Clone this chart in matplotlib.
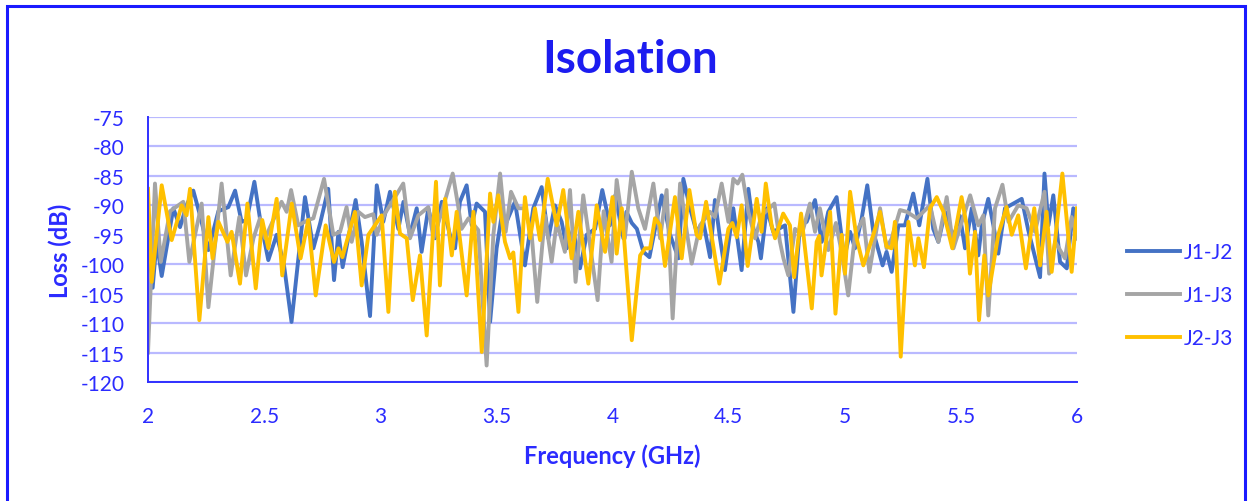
import matplotlib
matplotlib.use("Agg")
import matplotlib.pyplot as plt
from matplotlib.patches import Rectangle

plt.rcParams["font.family"] = ["Lato", "DejaVu Sans"]
plt.rcParams["axes.unicode_minus"] = False

# J1-J2 (blue)
f_j1j2 = [2.000, 2.020, 2.037, 2.059, 2.109, 2.138, 2.166, 2.195, 2.224, 2.260,
          2.303, 2.346, 2.375, 2.403, 2.425, 2.458, 2.482, 2.518, 2.554, 2.585,
          2.618, 2.676, 2.712, 2.741, 2.776, 2.801, 2.820, 2.838, 2.894, 2.920,
          2.956, 2.985, 3.013, 3.042, 3.078, 3.100, 3.128, 3.157, 3.178, 3.207,
          3.236, 3.265, 3.300, 3.322, 3.343, 3.372, 3.394, 3.415, 3.451, 3.473,
          3.501, 3.523, 3.544, 3.580, 3.623, 3.659, 3.695, 3.724, 3.752, 3.781,
          3.803, 3.831, 3.860, 3.889, 3.925, 3.956, 3.989, 4.012, 4.047, 4.060,
          4.083, 4.105, 4.133, 4.159, 4.183, 4.212, 4.248, 4.284, 4.305, 4.334,
          4.362, 4.391, 4.420, 4.441, 4.463, 4.484, 4.520, 4.556, 4.585, 4.607,
          4.628, 4.639, 4.664, 4.692, 4.743, 4.779, 4.807, 4.836, 4.872, 4.901,
          4.929, 4.965, 4.998, 5.023, 5.044, 5.073, 5.097, 5.123, 5.163, 5.180,
          5.202, 5.231, 5.259, 5.295, 5.321, 5.356, 5.381, 5.403, 5.432, 5.460,
          5.475, 5.496, 5.518, 5.547, 5.575, 5.590, 5.618, 5.640, 5.661, 5.690,
          5.762, 5.790, 5.841, 5.860, 5.877, 5.898, 5.927, 5.956, 5.984, 6.000]
loss_j1j2 = [-96, -104, -96, -102, -90.5, -93.7, -90, -87.5, -91.7, -97.6,
             -91, -90.3, -87.5, -92.8, -92.5, -86, -92.2, -99.3, -95, -100,
             -109.8, -88.6, -97.3, -93.1, -87.2, -102.7, -94.5, -100.5, -89.1, -96.2,
             -108.8, -86.6, -92.8, -87.7, -94, -89.4, -95, -90.5, -97.9, -90.5,
             -95.6, -89.4, -95, -97.3, -89.4, -86.6, -93.4, -89.7, -91.1, -109.8,
             -97.3, -91.7, -92.8, -89.4, -100.2, -90.5, -86.9, -95.6, -90, -92.8,
             -97.3, -94, -100.7, -95, -94, -87.4, -93.4, -88.3, -95.6, -91.1,
             -93, -94, -97.9, -98.8, -94, -88.3, -95, -99, -85.5, -90.5,
             -94.5, -92.8, -98.8, -89.1, -95.6, -101, -90.5, -101, -87.2, -94,
             -96.2, -99, -90.5, -94.5, -93.4, -108.1, -93.4, -92.8, -89.1, -96.2,
             -91.1, -88.6, -99, -94.5, -97.3, -92.2, -86.6, -94.5, -100.2, -97.9,
             -101.3, -93.4, -93.4, -88, -93.4, -85.5, -94, -96.2, -91.1, -94.8,
             -94.5, -91.8, -97.3, -90.5, -98.5, -93.4, -88.9, -93.4, -98.2, -90.5,
             -88.9, -94.2, -102.2, -84.6, -93.4, -88.3, -99.6, -100.7, -90.5, -95.6]

# J1-J3 (gray)
f_j1j3 = [2.000, 2.030, 2.055, 2.095, 2.152, 2.178, 2.231, 2.260, 2.317, 2.356,
          2.393, 2.422, 2.454, 2.482, 2.504, 2.575, 2.597, 2.616, 2.647, 2.690,
          2.712, 2.758, 2.798, 2.827, 2.855, 2.877, 2.906, 2.934, 2.970, 2.985,
          3.020, 3.099, 3.128, 3.164, 3.207, 3.229, 3.265, 3.312, 3.335, 3.350,
          3.380, 3.422, 3.458, 3.487, 3.516, 3.540, 3.563, 3.595, 3.623, 3.652,
          3.676, 3.709, 3.738, 3.760, 3.795, 3.817, 3.841, 3.874, 3.936, 3.962,
          3.996, 4.018, 4.053, 4.083, 4.111, 4.140, 4.176, 4.205, 4.233, 4.259,
          4.291, 4.320, 4.341, 4.377, 4.420, 4.441, 4.470, 4.499, 4.520, 4.539,
          4.559, 4.585, 4.614, 4.642, 4.697, 4.721, 4.736, 4.757, 4.786, 4.815,
          4.850, 4.872, 4.893, 4.929, 4.962, 4.987, 5.015, 5.044, 5.080, 5.106,
          5.152, 5.180, 5.202, 5.238, 5.267, 5.310, 5.367, 5.403, 5.439, 5.468,
          5.540, 5.575, 5.597, 5.618, 5.647, 5.679, 5.705, 5.747, 5.783, 5.819,
          5.860, 5.880, 5.906, 5.948, 5.977, 6.000]
loss_j1j3 = [-115, -86.3, -99.6, -91, -89.4, -99.6, -89.7, -107.3, -86.3, -101.9,
             -92, -101.9, -95.6, -92.2, -95.6, -89.4, -91.1, -87.4, -93.4, -92.5,
             -92.2, -85.5, -95, -94.5, -90.3, -96.2, -91.1, -92, -91.5, -95,
             -91.4, -86.3, -95.6, -91.7, -90.3, -95.6, -91.1, -84.6, -90, -94,
             -92.2, -94.2, -117.2, -95, -84.6, -94.5, -87.7, -90.5, -90.5, -95,
             -106.4, -91.7, -99.6, -92.8, -97.9, -87.4, -103, -88.3, -106.1, -91,
             -99.6, -85.7, -95.6, -84.3, -90.5, -94, -86.3, -95.6, -87.4, -109.2,
             -86.3, -94.5, -99.9, -93.4, -91.1, -92, -86.3, -92.8, -85.5, -86.3,
             -84.8, -91.1, -95.6, -91.7, -89.7, -96.2, -99, -101.9, -94, -95,
             -89.7, -94.5, -90.5, -97.6, -93, -98, -105.3, -95, -92.2, -101.3,
             -90.5, -97.3, -95.6, -90.8, -91.1, -92.2, -90, -96.2, -88.6, -97.3,
             -88.3, -93.4, -91.7, -108.7, -90.5, -86.5, -92.8, -90, -90.5, -94.5,
             -87.7, -101.6, -96.2, -99, -92, -95.6]

# J2-J3 (yellow)
f_j2j3 = [2.000, 2.016, 2.059, 2.102, 2.145, 2.166, 2.181, 2.221, 2.260, 2.278,
          2.303, 2.342, 2.360, 2.396, 2.428, 2.464, 2.492, 2.518, 2.554, 2.578,
          2.619, 2.657, 2.690, 2.722, 2.765, 2.801, 2.820, 2.837, 2.891, 2.920,
          2.949, 2.977, 3.006, 3.035, 3.063, 3.085, 3.114, 3.140, 3.171, 3.200,
          3.240, 3.257, 3.279, 3.308, 3.329, 3.372, 3.401, 3.437, 3.473, 3.487,
          3.508, 3.537, 3.559, 3.573, 3.595, 3.623, 3.645, 3.666, 3.688, 3.721,
          3.760, 3.788, 3.824, 3.853, 3.896, 3.932, 3.968, 4.000, 4.018, 4.040,
          4.083, 4.119, 4.140, 4.162, 4.183, 4.205, 4.226, 4.269, 4.298, 4.331,
          4.362, 4.377, 4.403, 4.460, 4.499, 4.516, 4.535, 4.556, 4.582, 4.621,
          4.642, 4.660, 4.685, 4.700, 4.735, 4.764, 4.782, 4.812, 4.858, 4.879,
          4.890, 4.900, 4.937, 4.960, 4.987, 5.001, 5.023, 5.051, 5.080, 5.123,
          5.152, 5.180, 5.202, 5.216, 5.241, 5.274, 5.302, 5.317, 5.341, 5.367,
          5.396, 5.425, 5.463, 5.503, 5.525, 5.539, 5.561, 5.578, 5.601, 5.618,
          5.661, 5.697, 5.719, 5.747, 5.780, 5.816, 5.841, 5.869, 5.891, 5.937,
          5.977, 6.000]
loss_j2j3 = [-87.2, -103, -86.6, -95.9, -90, -91.7, -87.2, -109.5, -92, -99,
             -92.8, -96.2, -94.5, -103.3, -89.7, -104.1, -92.5, -97.3, -88.9, -101.9,
             -89.7, -99, -92.5, -105.3, -93.4, -99.6, -97.3, -98.8, -91.1, -103.6,
             -95, -93.4, -91.7, -108.1, -87.7, -94.8, -95.6, -106.1, -98.5, -112.1,
             -86, -103.6, -88.9, -98.5, -91.1, -105.3, -91.1, -114.9, -88, -92.8,
             -88.3, -96.2, -99, -98, -108.1, -88.6, -95.6, -90.5, -95.9, -85.5,
             -93.4, -87.4, -99, -91.1, -103.3, -90, -97.9, -88.6, -98.2, -90.5,
             -112.9, -98.5, -97.3, -97.3, -92.2, -93.4, -100.3, -88.6, -99, -87.4,
             -95, -95.6, -89.4, -103.3, -94, -93, -95.4, -90, -100.3, -88.9,
             -94.5, -86.3, -93.4, -95.6, -91.4, -93.4, -102.2, -91.4, -107.5, -96.2,
             -95.2, -101.9, -91.1, -108.4, -95, -101.6, -87.7, -95.6, -100.2, -95,
             -91.1, -97, -97.3, -92.8, -115.7, -92.8, -100.2, -95.6, -100.5, -90.5,
             -88.6, -91.1, -97.3, -88.6, -93.4, -101.6, -94.5, -109.5, -98.5, -105.3,
             -95, -90.3, -95, -91.7, -100.7, -90.5, -100.2, -91.1, -101.3, -84.6,
             -101.3, -90.5]

xticks = [2, 2.5, 3, 3.5, 4, 4.5, 5, 5.5, 6]
xticklabels = ["2", "2.5", "3", "3.5", "4", "4.5", "5", "5.5", "6"]
yticks = list(range(-120, -74, 5))

TXT = "#2b2bff"
GRID = "#b9b9ff"

fig = plt.figure(figsize=(12.52, 5.02), dpi=100)
ax = fig.add_axes([148 / 1252, 1 - 383 / 502, (1077 - 148) / 1252, (383 - 118) / 502])

ax.plot(f_j1j2, loss_j1j2, color="#4472C4", lw=2.8, label="J1-J2", solid_joinstyle="round")
ax.plot(f_j1j3, loss_j1j3, color="#A5A5A5", lw=2.8, label="J1-J3", solid_joinstyle="round")
ax.plot(f_j2j3, loss_j2j3, color="#FFC000", lw=2.8, label="J2-J3", solid_joinstyle="round")

ax.set_xlim(2, 6)
ax.set_ylim(-120, -75)
ax.set_xticks(xticks)
ax.set_xticklabels(xticklabels)
ax.set_yticks(yticks)
ax.tick_params(length=0, colors=TXT, labelsize=15)
ax.tick_params(axis="x", pad=17)
ax.tick_params(axis="y", pad=17)
ax.yaxis.grid(True, color=GRID, lw=1.6)
ax.set_axisbelow(True)
for side in ["top", "right"]:
    ax.spines[side].set_visible(False)
for side in ["left", "bottom"]:
    ax.spines[side].set_color("#3030ff")
    ax.spines[side].set_linewidth(1.4)

ax.set_xlabel("Frequency (GHz)", color=TXT, fontsize=17, fontweight="bold", va="center")
ax.xaxis.set_label_coords(0.5, (383 - 456) / 265)
ax.set_ylabel("Loss (dB)", color=TXT, fontsize=17, fontweight="bold", va="center")
ax.yaxis.set_label_coords((60 - 148) / 929, 0.5)
fig.text(0.503, 1 - 60 / 502, "Isolation", ha="center", va="center",
         color="#1c1cf0", fontsize=33, fontweight="bold")

leg = fig.legend(loc="center left", bbox_to_anchor=(1108 / 1252, 1 - 296 / 502),
                 frameon=False, fontsize=15, handlelength=2.55, handletextpad=0.2,
                 labelspacing=1.1)
for t in leg.get_texts():
    t.set_color(TXT)

fig.patches.append(Rectangle((7 / 1252, -0.05), (1245 - 7) / 1252, 1.05 - 7 / 502,
                             transform=fig.transFigure, fill=False,
                             edgecolor="#1a1aff", lw=2.2))

fig.savefig("out.png", dpi=100)
